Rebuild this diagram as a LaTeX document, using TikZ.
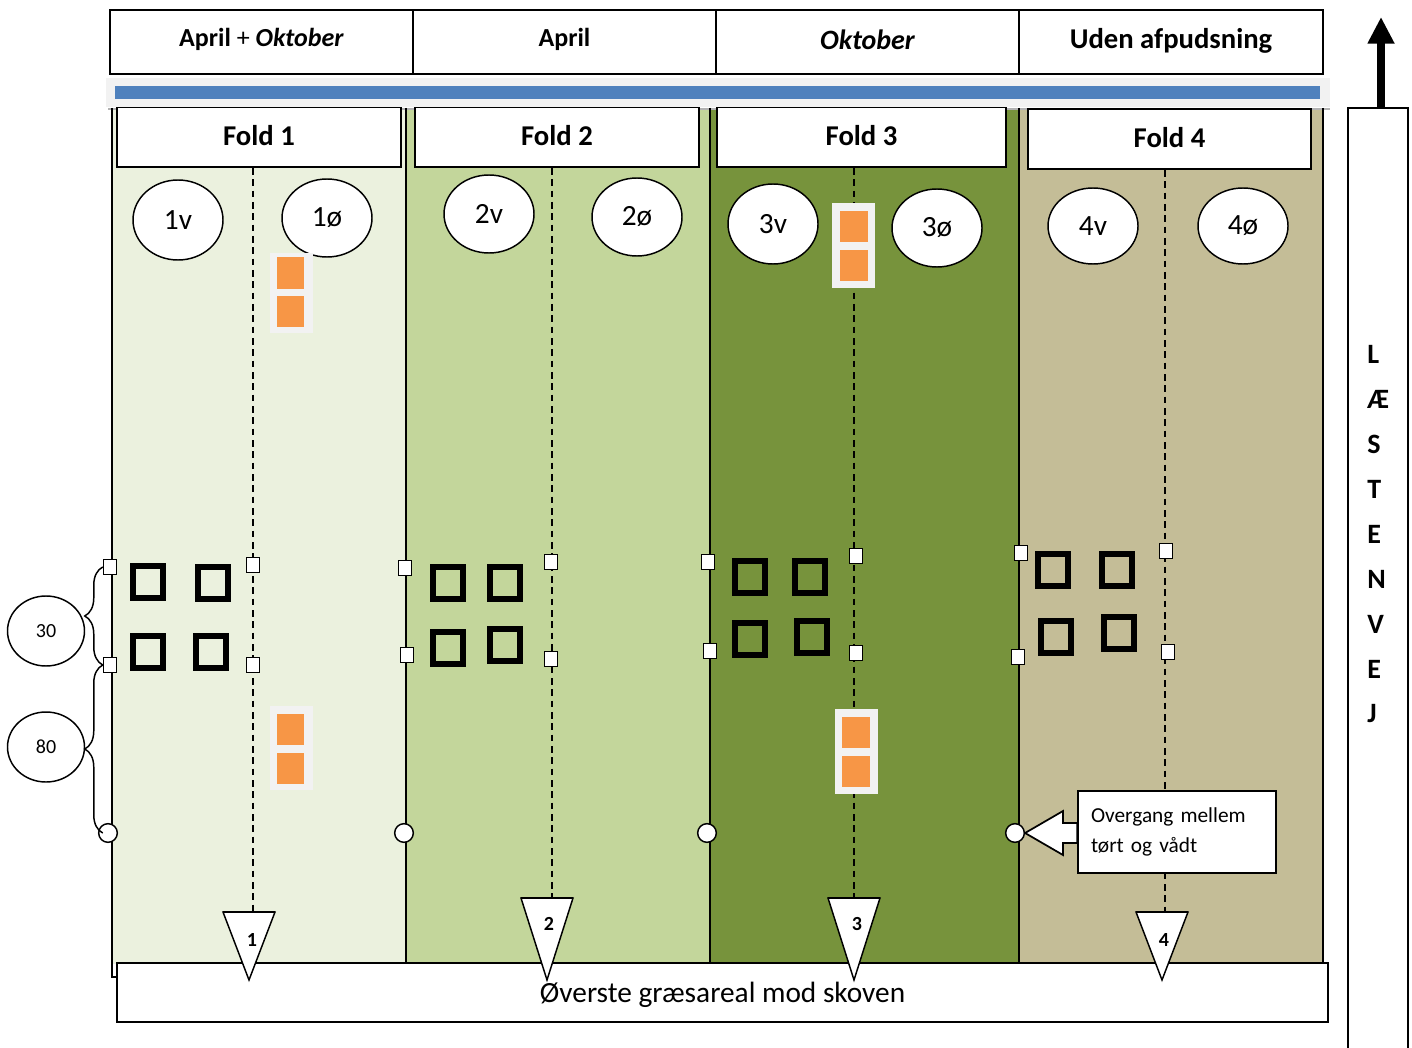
\documentclass[tikz,border=0pt]{standalone}
\usepackage{fontspec}
\setmainfont{Carlito}
\usetikzlibrary{decorations.pathreplacing,shapes.geometric,arrows.meta}
\definecolor{cA}{HTML}{EBF1DE}
\definecolor{cB}{HTML}{C3D69B}
\definecolor{cC}{HTML}{77933C}
\definecolor{cD}{HTML}{C4BD97}
\definecolor{blueb}{HTML}{4F81BD}
\definecolor{greyb}{HTML}{F2F2F2}
\definecolor{orng}{HTML}{F79646}
\newcommand{\lift}[2]{\raisebox{#1}[\height][\depth]{#2}}
\begin{document}
\begin{tikzpicture}[x=0.75pt,y=-0.75pt,
  sz/.style 2 args={minimum width=#1*0.75pt,minimum height=#2*0.75pt,inner sep=0pt},
  hdrbox/.style={draw,line width=1.3pt,fill=white},
  foldbox/.style={draw,line width=1.5pt,fill=white,font=\fontsize{21.5}{25}\selectfont\bfseries},
  lbl/.style={ellipse,draw,line width=1.1pt,fill=white,font=\fontsize{22}{26}\selectfont},
  dimlbl/.style={ellipse,draw,line width=1.1pt,fill=white,font=\fontsize{15}{18}\selectfont},
  dsh/.style={line width=1.1pt,dash pattern=on 5pt off 3.5pt},
  divider/.style={line width=1.4pt},
  smark/.style={draw,line width=1.1pt,fill=white,sz={13}{15}},
  ring/.style={circle,draw,line width=1.1pt,fill=white,minimum size=14pt,inner sep=0pt},
  sq/.style={line width=4pt},
  brc/.style={decorate,decoration={brace,amplitude=13.5pt},line width=1.1pt},
  tri/.style={draw,line width=1.1pt,fill=white},
  trinum/.style={font=\fontsize{15}{18}\selectfont\bfseries,inner sep=0pt},
  roadtxt/.style={font=\fontsize{21}{25}\selectfont\bfseries,anchor=west,inner sep=0pt}]
\useasboundingbox (0,0) rectangle (1412,1048);
\fill[white] (0,0) rectangle (1412,1048);
% column fills
\fill[cA] (112,108) rectangle (406,964);
\fill[cB] (406,108) rectangle (710,964);
\fill[cC] (710,108) rectangle (1019,964);
\fill[cD] (1019,108) rectangle (1323,964);
\draw[gray!60,line width=2pt] (108,109) -- (1330,109);
% dividers
\draw[divider] (112,108) -- (112,977) -- (117,977);
\draw[divider] (406,108) -- (406,964);
\draw[divider] (710,108) -- (710,964);
\draw[divider] (1019,108) -- (1019,964);
\draw[divider] (1323,108) -- (1323,964);
% fold boxes
\node[foldbox,sz={284}{60}] (fold1) at (259,137) {\lift{0.8pt}{Fold 1}};
\node[foldbox,sz={284}{60}] (fold2) at (557,137) {\lift{0.8pt}{Fold 2}};
\node[foldbox,sz={289}{60}] (fold3) at (861.5,137) {\lift{0.8pt}{Fold 3}};
\node[foldbox,sz={283}{60}] (fold4) at (1169.5,139) {\lift{0.8pt}{Fold 4}};
% triangle tops
\coordinate (tt1) at (253,912);
\coordinate (tt2) at (552,898);
\coordinate (tt3) at (854,898);
\coordinate (tt4) at (1165,912);
% dashed centre lines
\draw[dsh] (fold1.south -| tt1) -- (tt1);
\draw[dsh] (fold2.south -| tt2) -- (tt2);
\draw[dsh] (fold3.south -| tt3) -- (tt3);
\draw[dsh] (fold4.south -| tt4) -- (tt4);
% ellipses
\node[lbl,sz={90}{80}] (e1v) at (178,220) {1v};
\node[lbl,sz={90}{78}] (e1o) at (327,218) {1ø};
\node[lbl,sz={90}{78}] (e2v) at (489,214) {2v};
\node[lbl,sz={90}{78}] (e2o) at (637,217) {2ø};
\node[lbl,sz={90}{80}] (e3v) at (773,224) {3v};
\node[lbl,sz={90}{78}] (e3o) at (937,228) {3ø};
\node[lbl,sz={90}{76}] (e4v) at (1093,226) {4v};
\node[lbl,sz={90}{76}] (e4o) at (1243,226) {4ø};
% orange markers
\foreach \gx/\gy/\gh in {270/253/80, 270/706/84, 832/203/85, 835/709/85}{
  \fill[greyb] (\gx,\gy) rectangle ++(43,\gh);
}
\fill[orng] (277,257) rectangle (304,289);
\fill[orng] (277,296) rectangle (304,327);
\fill[orng] (277,714) rectangle (304,745);
\fill[orng] (277,753) rectangle (304,784);
\fill[orng] (840,211) rectangle (868,242);
\fill[orng] (840,250) rectangle (868,281);
\fill[orng] (842,717) rectangle (870,748);
\fill[orng] (842,756) rectangle (870,787);
% thick squares
\foreach \cx/\cy in {148/582,213/583,148/652,211/652,
                     448/583,505/583,448/648,505/645,
                     750/577,810/577,750/639,812/637,
                     1053/570,1117/570,1056/637,1119/633}{
  \draw[sq] (\cx-15,\cy-16) rectangle (\cx+15,\cy+16);
}
% circles
\node[ring] (c1) at (108,833) {};
\node[ring] (c2) at (404,833) {};
\node[ring] (c3) at (707,833) {};
\node[ring] (c4) at (1015,833) {};
% small square markers
\node[smark] (m1a) at (110,567) {};
\node[smark] (m1b) at (110,665) {};
\node[smark] (d1a) at (253,565) {};
\node[smark] (d1b) at (253,665) {};
\node[smark] (m2a) at (405,568) {};
\node[smark] (m2b) at (407,655) {};
\node[smark] (d2a) at (551,562) {};
\node[smark] (d2b) at (551,659) {};
\node[smark] (m3a) at (708,562) {};
\node[smark] (m3b) at (710,651) {};
\node[smark] (d3a) at (856,556) {};
\node[smark] (d3b) at (856,653) {};
\node[smark] (m4a) at (1021,553) {};
\node[smark] (m4b) at (1018,657) {};
\node[smark] (d4a) at (1166,551) {};
\node[smark] (d4b) at (1168,652) {};
% dimension labels and braces
\node[dimlbl,sz={77}{70}] (n30) at (46,631) {30};
\node[dimlbl,sz={77}{70}] (n80) at (46,747) {80};
\draw[brc] (m1b.west) -- (m1a.west);
\draw[brc] (m1b.west |- c1.center) -- (m1b.west);
% bottom box
\node[draw,line width=1.5pt,fill=white,sz={1211}{59},font=\fontsize{22}{26}\selectfont] (bottom) at (722.5,992.5) {\lift{-1.5pt}{Øverste græsareal mod skoven}};
% triangles
\foreach \tx/\ty in {249/912, 547/898, 854/898, 1162/912}{
  \draw[tri] (\tx-26,\ty) -- (\tx+26,\ty) -- (\tx,980) -- cycle;
  \draw[line width=2pt] (\tx-26,\ty) -- (\tx+26,\ty);
}
\node[trinum] (t1) at (252,940) {1};
\node[trinum] (t2) at (549,924) {2};
\node[trinum] (t3) at (857,924) {3};
\node[trinum] (t4) at (1164,940) {4};
% callout
\node[draw,line width=1.3pt,fill=white,sz={198}{82},align=left,text width=172*0.75pt,
      font=\fontsize{16}{22}\selectfont] (call) at (1177,832) {Overgang mellem\\tørt og vådt};
\draw[line width=1.3pt,fill=white] (c4.east) -- (1063,811) -- (1063,823) -- (call.west |- 0,823)
  -- (call.west |- 0,843) -- (1063,843) -- (1063,855) -- cycle;
% header
\node[hdrbox,sz={303}{64},font=\fontsize{19.5}{23}\selectfont] (h1) at (261.5,42) {\lift{2.2pt}{\textbf{April} + \textbf{\textit{Oktober}}}};
\node[hdrbox,sz={303}{64},font=\fontsize{19.5}{23}\selectfont\bfseries] (h2) at (564.5,42) {\lift{2.2pt}{April}};
\node[hdrbox,sz={303}{64},font=\fontsize{21}{25}\selectfont\bfseries\itshape] (h3) at (867.5,42) {\lift{2pt}{Oktober}};
\node[hdrbox,sz={304}{64},font=\fontsize{21.5}{25}\selectfont\bfseries] (h4) at (1171,42) {\lift{1pt}{Uden afpudsning}};
% blue bar
\fill[greyb] (106,78) rectangle (1330,107);
\fill[blueb] (115,86) rectangle (1320,99);
% road
\node[draw,line width=1.3pt,fill=white,sz={60}{960}] (road) at (1378,588) {};
\coordinate (uptip) at (1381,17);
\draw[line width=6pt,-{Triangle[width=19pt,length=20pt]}] (road.north -| uptip) -- (uptip);
\foreach \L [count=\i] in {L,Æ,S,T,E,N,V,E,J}{
  \node[roadtxt] (r\i) at (1367,309+45*\i) {\L};
}
\end{tikzpicture}
\end{document}
